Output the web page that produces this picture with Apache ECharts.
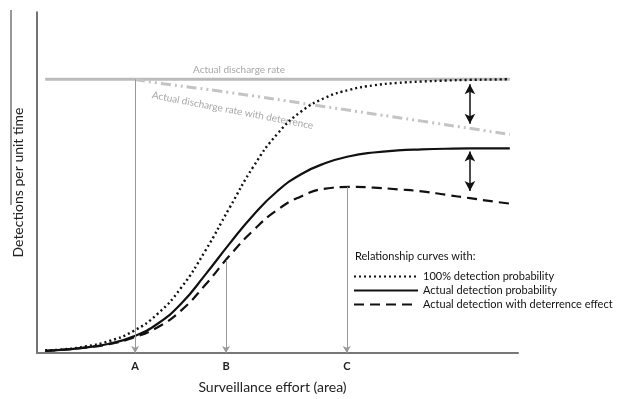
<!DOCTYPE html>
<html>
<head>
<meta charset="utf-8">
<script src="https://cdn.jsdelivr.net/npm/echarts@6/dist/echarts.min.js"></script>
<style>html,body{margin:0;padding:0;background:#fff}#c{width:644px;height:399px}</style>
</head>
<body>
<div id="c"></div>
<script>
// effort values (x) and detections (y)
var effort = [0.17, 0.5, 1, 1.5, 2, 2.5, 3, 3.5, 4, 4.5, 5, 5.5, 6, 6.5, 7, 7.5, 8, 8.5, 9, 9.5, 9.83];
var full   = [0.8, 1.0, 1.9, 3.5, 6.4, 11.4, 19.2, 30.0, 42.5, 54.7, 64.3, 70.9, 74.9, 77.2, 78.5, 79.2, 79.6, 79.9, 80.1, 80.2, 80.3];
var actual = [0.6, 0.9, 1.6, 2.7, 4.8, 8.5, 14.5, 23.0, 32.0, 40.5, 47.5, 52.5, 55.7, 57.7, 58.8, 59.4, 59.7, 59.9, 60.0, 60.0, 60.0];
var deter  = [0.6, 0.9, 1.6, 2.6, 4.5, 7.5, 12.5, 20.0, 28.5, 36.0, 42.0, 46.0, 48.2, 48.7, 48.5, 48.0, 47.4, 46.4, 45.4, 44.4, 43.8];
var dischargeX = [0.17, 9.83];
var discharge = [80.3, 80.3];
var dischDeterX = [2.04, 2.5, 4, 6, 8, 9.83];
var dischDeter = [80.2, 79.2, 76.4, 72.2, 68.0, 64.1];
var tickX = [2.04, 3.93, 6.44];
var tickLabels = ['A', 'B', 'C'];
var tickTop = [80.3, 27.3, 48.7];
var gapX = 9.0;
var gap1 = [78.8, 67.2];
var gap2 = [59.1, 47.5];
var names = ['100% detection probability', 'Actual detection probability', 'Actual detection with deterrence effect'];

function pairs(xs, ys) { return xs.map(function (x, i) { return [x, ys[i]]; }); }

var font = 'Lato';
var chart = echarts.init(document.getElementById('c'));

var dropLines = tickX.map(function (x, i) {
  return [{ coord: [x, tickTop[i]] }, { coord: [x, 0] }];
});

chart.setOption({
  animation: false,
  textStyle: { fontFamily: font },
  grid: { left: 37, right: 126, top: 12, bottom: 42 },
  xAxis: {
    type: 'value', min: 0, max: 10,
    name: 'Surveillance effort (area)', nameLocation: 'middle', nameGap: 27,
    nameTextStyle: { fontSize: 14, color: '#222', fontFamily: font, padding: [0, 10, 0, 0] },
    axisLine: { show: true, lineStyle: { color: '#777', width: 2 } },
    axisTick: { show: false },
    splitLine: { show: false },
    axisLabel: {
      show: true, customValues: tickX, margin: 8,
      fontSize: 11, fontWeight: 'bold', color: '#222', fontFamily: font,
      formatter: function (v) {
        for (var i = 0; i < tickX.length; i++) if (Math.abs(tickX[i] - v) < 1e-6) return tickLabels[i];
        return '';
      }
    }
  },
  yAxis: {
    type: 'value', min: 0, max: 100,
    name: 'Detections per unit time', nameLocation: 'middle', nameGap: 12,
    nameTextStyle: { fontSize: 14, color: '#222', fontFamily: font },
    axisLine: { show: true, lineStyle: { color: '#444', width: 1.5 } },
    axisTick: { show: false }, axisLabel: { show: false }, splitLine: { show: false }
  },
  legend: {
    orient: 'vertical', left: 348, top: 266,
    itemWidth: 64, itemHeight: 12, itemGap: 3, itemTextGap: 11,
    data: names,
    itemStyle: { color: 'rgba(0,0,0,0)', borderWidth: 0, opacity: 0 },
    textStyle: { fontSize: 11, color: '#111', fontFamily: font }
  },
  graphic: [
    { type: 'line', shape: { x1: 11, y1: 10, x2: 11, y2: 205 }, style: { stroke: '#333', lineWidth: 1 } },
    { type: 'text', left: 193, top: 65, style: { text: 'Actual discharge rate', fill: '#a8a8a8', font: '10px Lato' } },
    { type: 'text', x: 153, y: 90, rotation: -0.19, style: { text: 'Actual discharge rate with deterrence', fill: '#a8a8a8', font: '10px Lato' } },
    { type: 'text', left: 355, top: 251, style: { text: 'Relationship curves with:', fill: '#111', font: '11px Lato' } }
  ],
  series: [
    {
      name: 'discharge', type: 'line', data: pairs(dischargeX, discharge), symbol: 'none',
      lineStyle: { color: '#bbb', width: 3 }, z: 1,
      markLine: {
        silent: true, symbol: ['none', 'arrow'], symbolSize: [6, 7],
        lineStyle: { color: '#999', width: 1, type: 'solid' }, label: { show: false },
        data: dropLines
      }
    },
    {
      name: 'dischargeDeter', type: 'line', data: pairs(dischDeterX, dischDeter), symbol: 'none', smooth: true,
      lineStyle: { color: '#c4c4c4', width: 3, type: [10, 4, 2, 4, 2, 4] }, z: 1
    },
    {
      name: names[0], type: 'line', data: pairs(effort, full), symbol: 'none', smooth: true,
      lineStyle: { color: '#111', width: 2.4, type: [2, 3] }, itemStyle: { color: '#111' }, z: 3
    },
    {
      name: names[1], type: 'line', data: pairs(effort, actual), symbol: 'none', smooth: true,
      lineStyle: { color: '#111', width: 2.2 }, itemStyle: { color: '#111' }, z: 3,
      markLine: {
        silent: true, symbol: ['arrow', 'arrow'], symbolSize: [8, 10],
        lineStyle: { color: '#111', width: 1.5, type: 'solid' }, label: { show: false },
        data: [
          [{ coord: [gapX, gap1[0]] }, { coord: [gapX, gap1[1]] }],
          [{ coord: [gapX, gap2[0]] }, { coord: [gapX, gap2[1]] }]
        ]
      }
    },
    {
      name: names[2], type: 'line', data: pairs(effort, deter), symbol: 'none', smooth: true,
      lineStyle: { color: '#111', width: 2.2, type: [10, 6] }, itemStyle: { color: '#111' }, z: 3
    }
  ]
});
</script>
</body>
</html>
